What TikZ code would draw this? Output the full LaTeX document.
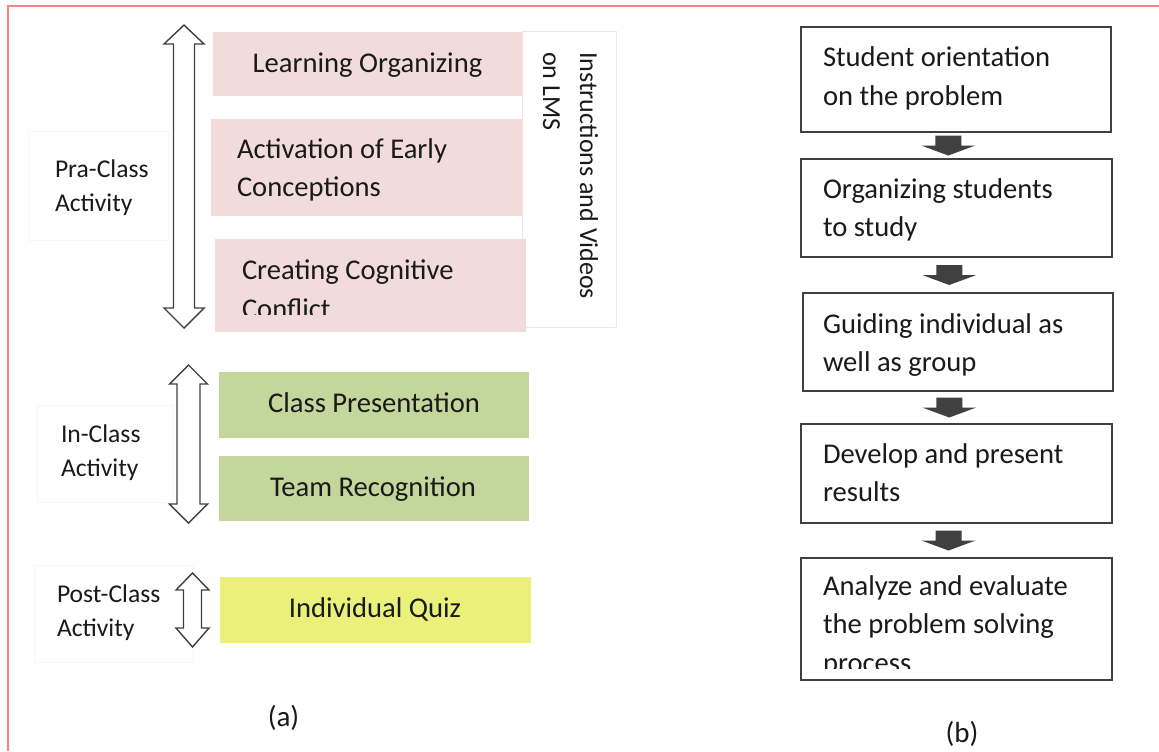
\documentclass[tikz,border=0pt]{standalone}
\usepackage{fontspec}
\setmainfont{Carlito}
\usetikzlibrary{fit,calc}

\definecolor{pinkfill}{HTML}{F2DCDB}
\definecolor{greenfill}{HTML}{C3D69B}
\definecolor{yellowfill}{HTML}{EBF07A}
\definecolor{framered}{HTML}{FF8080}
\definecolor{inkgray}{HTML}{404040}
\definecolor{faintgray}{HTML}{F7F7F7}
\definecolor{lmsedge}{HTML}{F6E4E4}
\definecolor{textink}{HTML}{1A1A1A}

\tikzset{
  boxfont/.style={font=\fontsize{14.3}{19.25}\selectfont},
  labelfont/.style={font=\fontsize{12.8}{17}\selectfont},
  lmsfont/.style={font=\fontsize{13}{18.5}\selectfont},
  capfont/.style={font=\fontsize{14.5}{17}\selectfont},
  txt/.style={inner sep=0pt, outer sep=0pt, text=textink},
  phasebox/.style={inner sep=0pt, outer sep=0pt, draw=none},
  pinkbox/.style={phasebox, fill=pinkfill},
  greenbox/.style={phasebox, fill=greenfill},
  yellowbox/.style={phasebox, fill=yellowfill},
  lmsbox/.style={inner sep=0pt, draw=lmsedge, line width=0.5pt, fill=white},
  stepframe/.style={draw=inkgray, line width=0.8pt, fill=white, inner sep=0pt},
  dblarrow/.style={draw=inkgray, line width=0.7pt, fill=white, line join=miter},
  blockarrow/.style={fill=inkgray, draw=none},
  faintframe/.style={draw=faintgray, line width=0.5pt}
}

% two-headed outline arrow: centre x, top tip, top head base, bottom head base, bottom tip, head half-width, shaft half-width
\newcommand\twowayarrow[7]{%
  \draw[dblarrow] (#1,#2) -- ({#1+#6},#3) -- ({#1+#7},#3) -- ({#1+#7},#4) -- ({#1+#6},#4)
    -- (#1,#5) -- ({#1-#6},#4) -- ({#1-#7},#4) -- ({#1-#7},#3) -- ({#1-#6},#3) -- cycle;}

% solid block arrow between two stacked step boxes
\newcommand\flowstep[2]{%
  \coordinate (m-#1) at ($(#1.south)!0.5!(#2.north)+(-8,0)$);
  \fill[blockarrow] ($(m-#1)+(-13,-10)$) -- ($(m-#1)+(13,-10)$) -- ($(m-#1)+(13,0)$)
    -- ($(m-#1)+(27,0)$) -- ($(m-#1)+(0,10)$) -- ($(m-#1)+(-27,0)$) -- ($(m-#1)+(-13,0)$) -- cycle;}

\begin{document}
\begin{tikzpicture}[x=0.5pt, y=-0.5pt]
\useasboundingbox (0,0) rectangle (1159,751);
\fill[white] (0,0) rectangle (1159,751);

% page frame
\draw[framered, line width=0.8pt] (8,751) -- (8,6) -- (1159,6);

% ---------- (a) flipped-classroom phases ----------
\draw[faintframe] (28,131) rectangle (168,240);
\draw[faintframe] (37,405) rectangle (172,502);
\draw[faintframe] (34,565) rectangle (193,662);

% multi-line texts are placed by the baseline of their last line
\node[txt, labelfont, anchor=base west, align=left] (pra) at (55,211) {Pra-Class\\Activity};
\node[txt, labelfont, anchor=base west, align=left] (inc) at (61,476) {In-Class\\Activity};
\node[txt, labelfont, anchor=base west, align=left] (post) at (57,636) {Post-Class\\Activity};

\twowayarrow{184}{25}{44}{308}{328}{20}{10.5}
\twowayarrow{188.5}{365}{384}{504}{523}{19}{11.5}
\twowayarrow{192.5}{573}{590}{628}{647}{16.5}{9}

% LMS side panel
\node[lmsbox, fit={(522,31)(616,327)}] (lms) {};
\node[txt, lmsfont, rotate=-90, anchor=base west, align=left] (lmst) at (543,52) {Instructions and Videos\\on LMS};

% pre-class steps
\node[pinkbox, fit={(213,32)(522,96)}] (lo) {};
\node[txt, boxfont, anchor=base] (lot) at (367.5,72.5) {Learning Organizing};
\node[pinkbox, fit={(211,119)(522,216)}] (ae) {};
\node[txt, boxfont, anchor=base west, align=left] (aet) at (237,196.5) {Activation of Early\\Conceptions};
\node[pinkbox, fit={(215,239)(526,332)}] (cc) {};
\begin{scope}
  \clip (215,239) rectangle (526,314);
  \node[txt, boxfont, anchor=base west, align=left] (cct) at (242,318) {Creating Cognitive\\Conflict};
\end{scope}

% in-class steps
\node[greenbox, fit={(219,372)(529,438)}] (cp) {};
\node[txt, boxfont, anchor=base] (cpt) at (374,412) {Class Presentation};
\node[greenbox, fit={(219,456)(529,521)}] (tr) {};
\node[txt, boxfont, anchor=base] (trt) at (373,496) {Team Recognition};

% post-class step
\node[yellowbox, fit={(220,577)(531,643)}] (iq) {};
\node[txt, boxfont, anchor=base] (iqt) at (375,617) {Individual Quiz};

\node[txt, capfont, anchor=base] (capa) at (283.5,726) {(a)};

% ---------- (b) problem-based learning syntax ----------
\node[stepframe, fit={(801,27)(1111,132)}] (s1) {};
\node[txt, boxfont, anchor=base west, align=left] (s1t) at (823,105) {Student orientation\\on the problem};
\node[stepframe, fit={(801,159)(1112,257)}] (s2) {};
\node[txt, boxfont, anchor=base west, align=left] (s2t) at (823,236.5) {Organizing students\\to study};
\node[stepframe, fit={(803,293)(1113,391)}] (s3) {};
\node[txt, boxfont, anchor=base west, align=left] (s3t) at (823,371.5) {Guiding individual as\\well as group};
\node[stepframe, fit={(801,424)(1112,523)}] (s4) {};
\node[txt, boxfont, anchor=base west, align=left] (s4t) at (823,501.5) {Develop and present\\results};
\node[stepframe, fit={(801,558)(1112,680)}] (s5) {};
\begin{scope}
  \clip (801,558) rectangle (1112,668);
  \node[txt, boxfont, anchor=base west, align=left] (s5t) at (823,672) {Analyze and evaluate\\the problem solving\\process};
\end{scope}

\flowstep{s1}{s2}
\flowstep{s2}{s3}
\flowstep{s3}{s4}
\flowstep{s4}{s5}

\node[txt, capfont, anchor=base] (capb) at (962,742) {(b)};
\end{tikzpicture}
\end{document}
